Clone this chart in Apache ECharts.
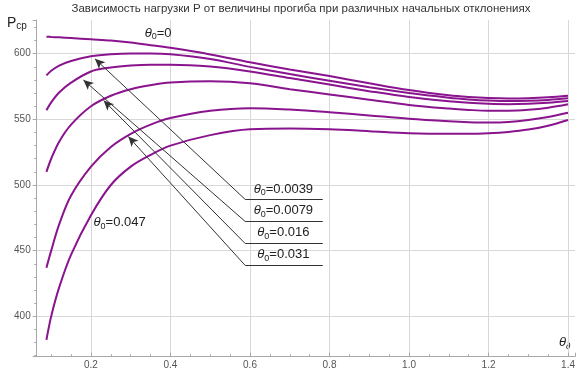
<!DOCTYPE html>
<html>
<head>
<meta charset="utf-8">
<script src="https://cdn.jsdelivr.net/npm/echarts@6.0.0/dist/echarts.min.js"></script>
<style>
  html, body { margin: 0; padding: 0; background: #fff; }
  #chart { width: 578px; height: 373px; }
</style>
</head>
<body>
<div id="chart"></div>
<script>
// Deflection angle θ∂ (x values shared by all curves)
const thetaD = [0.088, 0.1, 0.12, 0.15, 0.2, 0.25, 0.3, 0.35, 0.4, 0.5, 0.6, 0.7, 0.8, 0.9, 1.0, 1.1, 1.15, 1.2, 1.25, 1.3, 1.35, 1.4];

// Critical load P_cp for each initial deviation θ0
const p_0     = [613, 612.8, 612.5, 612, 611, 610, 608.5, 606.5, 604.5, 599.5, 593.5, 588, 583, 577.5, 572.3, 568.3, 567, 566.2, 565.9, 566.1, 566.8, 568];
const p_0039  = [583.5, 587, 591, 594.5, 598, 599.6, 600.2, 600.2, 599.6, 596, 590, 584.5, 579.5, 574.5, 570, 566.5, 565.2, 564.3, 563.9, 564.1, 564.8, 566];
const p_0079  = [557, 563, 570.5, 578, 586.5, 589.5, 591, 591.6, 591.6, 590.2, 586.5, 581.5, 576.5, 571.5, 567, 563.8, 562.6, 561.9, 561.6, 561.9, 562.7, 564];
const p_016   = [510, 520, 533, 546, 560, 568, 573, 576, 578, 579, 577.5, 573, 569, 565, 561, 558.2, 557.2, 556.6, 556.6, 557.3, 558.9, 561.5];
const p_031   = [437, 450, 470, 492, 514, 529, 539, 546, 551, 556.5, 558.5, 557.5, 555.5, 553, 550.5, 548.6, 547.9, 547.6, 548, 549.5, 551.8, 555];
const p_047   = [382, 400, 422, 447, 477, 500, 514, 523, 530, 538, 542.5, 543, 542.4, 541, 539.5, 539, 539, 539.4, 540.4, 542.2, 545.2, 549.5];

const curveNames = ['θ0=0', 'θ0=0.0039', 'θ0=0.0079', 'θ0=0.016', 'θ0=0.031', 'θ0=0.047'];
const curveValues = [p_0, p_0039, p_0079, p_016, p_031, p_047];

// Callout texts (θ0 subscript value) and their anchor points in data units
const calloutTexts = ['0.0039', '0.0079', '0.016', '0.031'];
const calloutTextPos = [[0.684, 497.0], [0.684, 480.4], [0.684, 463.7], [0.684, 447.2]];
const calloutRuleY = [489.0, 472.2, 455.4, 438.7];
const calloutRuleX = [0.588, 0.783];
const calloutTips = [[0.21, 596.1], [0.181, 580.0], [0.232, 564.4], [0.294, 536.9]];

// Direct curve labels
const directTexts = ['0', '0.047'];
const directPos = [[0.369, 615.8], [0.272, 471.8]];

const FONT = '"Liberation Sans", Arial, sans-serif';
const CURVE_COLOR = '#8a138e';

const labelRich = {
  t: { fontFamily: FONT, fontSize: 13, fontStyle: 'italic', color: '#222' },
  s: { fontFamily: FONT, fontSize: 9, color: '#222', padding: [8, 0, 0, 0] },
  n: { fontFamily: FONT, fontSize: 13, color: '#222' }
};
const thetaLabel = v => '{t|θ}{s|0}{n|=' + v + '}';

const markPointData = [];
directTexts.forEach((v, i) => markPointData.push({ coord: directPos[i], label: { formatter: thetaLabel(v) } }));
calloutTexts.forEach((v, i) => markPointData.push({ coord: calloutTextPos[i], label: { formatter: thetaLabel(v) } }));

const markLineData = [];
calloutTexts.forEach((v, i) => {
  markLineData.push([
    { coord: [calloutRuleX[1], calloutRuleY[i]], symbol: 'none' },
    { coord: [calloutRuleX[0], calloutRuleY[i]], symbol: 'none' }
  ]);
  markLineData.push([
    { coord: [calloutRuleX[0], calloutRuleY[i]], symbol: 'none' },
    { coord: calloutTips[i], symbol: 'arrow', symbolSize: [7, 10] }
  ]);
});

const series = curveValues.map((vals, i) => ({
  name: curveNames[i],
  type: 'line',
  data: thetaD.map((x, j) => [x, vals[j]]),
  smooth: 0.35,
  showSymbol: false,
  symbol: 'none',
  lineStyle: { color: CURVE_COLOR, width: 2 },
  silent: true,
  animation: false
}));

series[0].markPoint = {
  symbol: 'circle', symbolSize: 0, silent: true, animation: false,
  label: { show: true, position: 'inside', rich: labelRich },
  data: markPointData
};
series[0].markLine = {
  silent: true, animation: false, symbol: 'none',
  label: { show: false },
  lineStyle: { color: '#333', width: 1, type: 'solid' },
  emphasis: { disabled: true },
  data: markLineData
};

const gridColor = '#d8d8d8';
const axisColor = '#a8a8a8';

const chart = echarts.init(document.getElementById('chart'), null, { renderer: 'canvas' });
chart.setOption({
  animation: false,
  backgroundColor: '#fff',
  grid: { left: 36.7, right: 0, top: 20, bottom: 16.3, containLabel: false },
  xAxis: {
    type: 'value', min: 0.0635, max: 1.4175, splitNumber: 7,
    axisLine: { show: true, lineStyle: { color: axisColor } },
    axisTick: { show: true, inside: true, length: 4, lineStyle: { color: axisColor } },
    minorTick: { show: true, splitNumber: 4, length: 2.5, lineStyle: { color: axisColor } },
    splitLine: { show: true, showMinLine: false, showMaxLine: false, lineStyle: { color: gridColor, width: 1 } },
    axisLabel: { showMinLabel: false, showMaxLabel: false, fontFamily: FONT, fontSize: 10, color: '#555', margin: 4,
                 formatter: v => v.toFixed(1) }
  },
  yAxis: {
    type: 'value', min: 369.2, max: 625.7, splitNumber: 5,
    axisLine: { show: true, lineStyle: { color: axisColor } },
    axisTick: { show: true, inside: false, length: 4, lineStyle: { color: axisColor } },
    minorTick: { show: true, splitNumber: 5, length: 2.5, lineStyle: { color: axisColor } },
    splitLine: { show: true, showMinLine: false, showMaxLine: false, lineStyle: { color: gridColor, width: 1 } },
    axisLabel: { showMinLabel: false, showMaxLabel: false, fontFamily: FONT, fontSize: 10, color: '#555', margin: 6 }
  },
  graphic: [
    { type: 'text', x: 301, y: 3,
      style: { text: 'Зависимость нагрузки P от величины прогиба при различных начальных отклонениях',
               font: '11.5px ' + FONT, fill: '#333', align: 'center', verticalAlign: 'top' } },
    { type: 'text', left: 7, top: 16,
      style: { text: '{p|P}{s|cp}', rich: { p: { fontFamily: FONT, fontSize: 14, fill: '#222' },
                                            s: { fontFamily: FONT, fontSize: 10, fill: '#222', padding: [6, 0, 0, 0] } } } },
    { type: 'text', left: 559, top: 336,
      style: { text: '{t|θ}{s|∂}', rich: { t: { fontFamily: FONT, fontSize: 13, fontStyle: 'italic', fill: '#222' },
                                          s: { fontFamily: FONT, fontSize: 9, fontStyle: 'italic', fill: '#222', padding: [8, 0, 0, 0] } } } }
  ],
  series: series
});
</script>
</body>
</html>
